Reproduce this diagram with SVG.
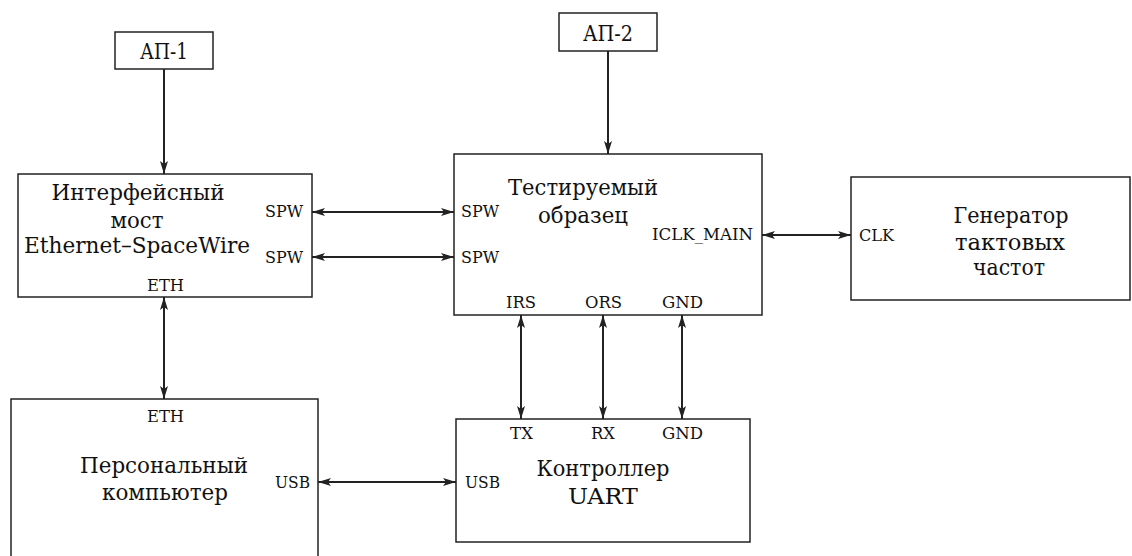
<svg xmlns="http://www.w3.org/2000/svg" width="1132" height="556" viewBox="0 0 1132 556">
<style>
.box{fill:#fff;stroke:#222;stroke-width:1.5}
.big{font-family:"DejaVu Serif","Liberation Serif",serif;font-size:22px;fill:#111;text-anchor:middle}
.sm{font-family:"DejaVu Serif","Liberation Serif",serif;font-size:16px;fill:#111}
.ln{stroke:#222;stroke-width:2;fill:none}
</style>
<defs>
<marker id="ah" viewBox="0 0 13 8" refX="13" refY="4" markerWidth="13" markerHeight="8" markerUnits="userSpaceOnUse" orient="auto-start-reverse">
<path d="M0,0 L13,4 L0,8 L3,4 Z" fill="#222"/>
</marker>
</defs>
<rect width="1132" height="556" fill="#fff"/>
<g id="ap1">
<rect class="box" x="115" y="32" width="98" height="37"/>
<text class="big" x="164" y="59" textLength="48" lengthAdjust="spacingAndGlyphs">АП-1</text>
</g>
<g id="ap2">
<rect class="box" x="559" y="13" width="98" height="38"/>
<text class="big" x="608" y="41" textLength="50" lengthAdjust="spacingAndGlyphs">АП-2</text>
</g>
<g id="bridge">
<rect class="box" x="18" y="174" width="294" height="123"/>
<text class="big" x="138" y="200" textLength="173" lengthAdjust="spacingAndGlyphs">Интерфейсный</text>
<text class="big" x="137" y="228" textLength="53" lengthAdjust="spacingAndGlyphs">мост</text>
<text class="big" x="137" y="253" textLength="226" lengthAdjust="spacingAndGlyphs">Ethernet–SpaceWire</text>
<text class="sm" x="265" y="217" textLength="38" lengthAdjust="spacingAndGlyphs">SPW</text>
<text class="sm" x="265" y="263" textLength="38" lengthAdjust="spacingAndGlyphs">SPW</text>
<text class="sm" x="147" y="291" textLength="37" lengthAdjust="spacingAndGlyphs">ETH</text>
</g>
<g id="dut">
<rect class="box" x="454" y="154" width="308" height="161"/>
<text class="big" x="583" y="195" textLength="150" lengthAdjust="spacingAndGlyphs">Тестируемый</text>
<text class="big" x="583" y="223" textLength="90" lengthAdjust="spacingAndGlyphs">образец</text>
<text class="sm" x="461" y="217" textLength="38" lengthAdjust="spacingAndGlyphs">SPW</text>
<text class="sm" x="461" y="263" textLength="38" lengthAdjust="spacingAndGlyphs">SPW</text>
<text class="sm" x="652" y="240" textLength="101" lengthAdjust="spacingAndGlyphs">ICLK_MAIN</text>
<text class="sm" x="506" y="308" textLength="30" lengthAdjust="spacingAndGlyphs">IRS</text>
<text class="sm" x="585" y="308" textLength="37" lengthAdjust="spacingAndGlyphs">ORS</text>
<text class="sm" x="662" y="308" textLength="41" lengthAdjust="spacingAndGlyphs">GND</text>
</g>
<g id="generator">
<rect class="box" x="851" y="177" width="279" height="123"/>
<text class="big" x="1011" y="223" textLength="115" lengthAdjust="spacingAndGlyphs">Генератор</text>
<text class="big" x="1010" y="250" textLength="110" lengthAdjust="spacingAndGlyphs">тактовых</text>
<text class="big" x="1009" y="275" textLength="72" lengthAdjust="spacingAndGlyphs">частот</text>
<text class="sm" x="859" y="241" textLength="35" lengthAdjust="spacingAndGlyphs">CLK</text>
</g>
<g id="pc">
<rect class="box" x="11" y="399" width="307" height="170"/>
<text class="sm" x="147" y="422" textLength="37" lengthAdjust="spacingAndGlyphs">ETH</text>
<text class="big" x="164" y="473" textLength="168" lengthAdjust="spacingAndGlyphs">Персональный</text>
<text class="big" x="165" y="500" textLength="126" lengthAdjust="spacingAndGlyphs">компьютер</text>
<text class="sm" x="275" y="488" textLength="35" lengthAdjust="spacingAndGlyphs">USB</text>
</g>
<g id="uart">
<rect class="box" x="456" y="419" width="294" height="123"/>
<text class="sm" x="510" y="439" textLength="23" lengthAdjust="spacingAndGlyphs">TX</text>
<text class="sm" x="591" y="439" textLength="24" lengthAdjust="spacingAndGlyphs">RX</text>
<text class="sm" x="662" y="439" textLength="41" lengthAdjust="spacingAndGlyphs">GND</text>
<text class="sm" x="465" y="488" textLength="35" lengthAdjust="spacingAndGlyphs">USB</text>
<text class="big" x="603" y="476" textLength="133" lengthAdjust="spacingAndGlyphs">Контроллер</text>
<text class="big" x="603" y="504" textLength="70" lengthAdjust="spacingAndGlyphs">UART</text>
</g>
<g id="connectors">
<line class="ln" x1="164" y1="69" x2="164" y2="174" marker-end="url(#ah)"/>
<line class="ln" x1="608" y1="51" x2="608" y2="154" marker-end="url(#ah)"/>
<line class="ln" x1="312" y1="212" x2="454" y2="212" marker-start="url(#ah)" marker-end="url(#ah)"/>
<line class="ln" x1="312" y1="257" x2="454" y2="257" marker-start="url(#ah)" marker-end="url(#ah)"/>
<line class="ln" x1="762" y1="235" x2="851" y2="235" marker-start="url(#ah)" marker-end="url(#ah)"/>
<line class="ln" x1="164" y1="297" x2="164" y2="399" marker-start="url(#ah)" marker-end="url(#ah)"/>
<line class="ln" x1="318" y1="482" x2="456" y2="482" marker-start="url(#ah)" marker-end="url(#ah)"/>
<line class="ln" x1="521" y1="315" x2="521" y2="419" marker-start="url(#ah)" marker-end="url(#ah)"/>
<line class="ln" x1="603" y1="315" x2="603" y2="419" marker-start="url(#ah)" marker-end="url(#ah)"/>
<line class="ln" x1="682" y1="315" x2="682" y2="419" marker-start="url(#ah)" marker-end="url(#ah)"/>
</g>
</svg>
